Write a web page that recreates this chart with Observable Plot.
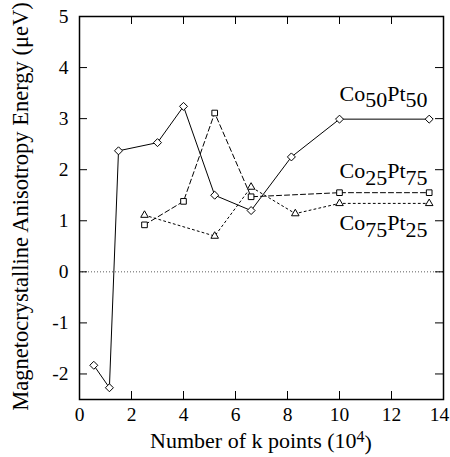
<!DOCTYPE html>
<html><head>
<meta charset="utf-8">
<script src="https://cdn.jsdelivr.net/npm/d3@7"></script>
<script src="https://cdn.jsdelivr.net/npm/@observablehq/plot@0.6"></script>
<style>body{margin:0;background:#fff} svg{display:block} svg, svg text{font-family: "Liberation Serif", "DejaVu Serif", serif !important;}</style>
</head><body><div id="chart"></div>
<script>
// Co50Pt50 (solid line, diamonds)
const co50x = [0.55, 1.15, 1.5, 3.0, 4.0, 5.2, 6.6, 8.15, 10.0, 13.45];
const co50y = [-1.83, -2.27, 2.37, 2.53, 3.24, 1.5, 1.2, 2.25, 2.99, 2.99];
// Co25Pt75 (dashed line, squares)
const co25x = [2.5, 4.0, 5.2, 6.6, 10.0, 13.45];
const co25y = [0.92, 1.38, 3.11, 1.47, 1.55, 1.55];
// Co75Pt25 (dotted line, triangles)
const co75x = [2.5, 5.2, 6.6, 8.3, 10.0, 13.45];
const co75y = [1.11, 0.70, 1.66, 1.14, 1.34, 1.34];

const xTicks = [0, 2, 4, 6, 8, 10, 12, 14];
const yTicks = [-2, -1, 0, 1, 2, 3, 4, 5];

const seriesNames = ["Co50Pt50", "Co25Pt75", "Co75Pt25"];
const seriesParts = [["Co","50","Pt","50"], ["Co","25","Pt","75"], ["Co","75","Pt","25"]];
const labelX = [10, 10, 10];
const labelY = [3.35, 1.83, 0.81];

const xLabel = "Number of k points (10";
const xLabelSup = "4";
const yLabel = "Magnetocrystalline Anisotropy Energy (μeV)";

const W = 450, H = 457;
const mL = 79, mR = 7, mT = 16, mB = 58;
const iW = W - mL - mR, iH = H - mT - mB;
const tickLen = 8;
const FONT = "Liberation Serif, DejaVu Serif, serif";

const toRows = (xs, ys) => xs.map((x, i) => ({x, y: ys[i]}));
const d50 = toRows(co50x, co50y);
const d25 = toRows(co25x, co25y);
const d75 = toRows(co75x, co75y);
const labels = seriesNames.map((n, i) => ({name: n, x: labelX[i], y: labelY[i]}));

const inner = xTicks.slice(1, -1);
const innerY = yTicks.slice(0, -1);

const plot = Plot.plot({
  width: W, height: H,
  marginLeft: mL, marginRight: mR, marginTop: mT, marginBottom: mB,
  style: {fontFamily: FONT, fontSize: "19.5px", background: "#fff", color: "#000"},
  x: {domain: [0, 14], ticks: xTicks, tickSize: 0, tickPadding: 8, label: null, tickFormat: d => String(d)},
  y: {domain: [-2.5, 5], ticks: yTicks, tickSize: 0, tickPadding: 11, label: null, tickFormat: d => String(d)},
  marks: [
    Plot.ruleY([0], {stroke: "#333", strokeWidth: 0.8, strokeDasharray: "1,2"}),
    Plot.ruleX(inner, {x: d => d, insetTop: iH - tickLen, stroke: "#000"}),
    Plot.ruleX(inner, {x: d => d, insetBottom: iH - tickLen, stroke: "#000"}),
    Plot.ruleY(innerY, {y: d => d, insetRight: iW - tickLen, stroke: "#000"}),
    Plot.ruleY(innerY, {y: d => d, insetLeft: iW - tickLen, stroke: "#000"}),
    Plot.line(d50, {x: "x", y: "y", stroke: "#000", strokeWidth: 1}),
    Plot.line(d25, {x: "x", y: "y", stroke: "#000", strokeWidth: 1, strokeDasharray: "5,3"}),
    Plot.line(d75, {x: "x", y: "y", stroke: "#000", strokeWidth: 1, strokeDasharray: "2,3"}),
    Plot.dot(d50, {x: "x", y: "y", symbol: "diamond2", r: 3.6, stroke: "#000", fill: "#fff", strokeWidth: 1}),
    Plot.dot(d25, {x: "x", y: "y", symbol: "square2", r: 3.6, stroke: "#000", fill: "#fff", strokeWidth: 1}),
    Plot.dot(d75, {x: "x", y: "y", symbol: "triangle2", r: 3.6, stroke: "#000", fill: "#fff", strokeWidth: 1}),
    Plot.text(labels, {x: "x", y: "y", text: "name", textAnchor: "start", lineAnchor: "bottom", fontSize: 22, fill: "#000"}),
    Plot.frame({stroke: "#000", strokeWidth: 1.5})
  ]
});

const svg = d3.select(plot);

// subscripts for series labels; nudge the last x tick label inside the page
svg.selectAll("text").each(function() {
  const t = d3.select(this);
  if (this.textContent === String(xTicks[xTicks.length - 1]) && this.closest("[aria-label='x-axis tick label']")) {
    t.attr("dx", -4);
    return;
  }
  const idx = seriesNames.indexOf(this.textContent);
  if (idx < 0) return;
  const parts = seriesParts[idx];
  t.text(null);
  parts.forEach((p, k) => {
    const sub = k % 2 === 1;
    t.append("tspan").attr("dy", k === 0 ? null : (sub ? "0.3em" : "-0.3em")).text(p);
  });
});

// x axis label with superscript
const xl = svg.append("text")
  .attr("x", mL + iW / 2).attr("y", 448)
  .attr("text-anchor", "middle").attr("font-size", 22).attr("fill", "#000");
xl.append("tspan").text(xLabel);
xl.append("tspan").attr("dy", "-0.4em").attr("font-size", 16).text(xLabelSup);
xl.append("tspan").attr("dy", "0.4em").text(")");
// y axis label
svg.append("text")
  .attr("transform", `translate(28,${mT + iH / 2 - 1}) rotate(-90)`)
  .attr("text-anchor", "middle").attr("font-size", 22.5).attr("fill", "#000")
  .text(yLabel);

document.getElementById("chart").appendChild(plot);
</script>
</body></html>
